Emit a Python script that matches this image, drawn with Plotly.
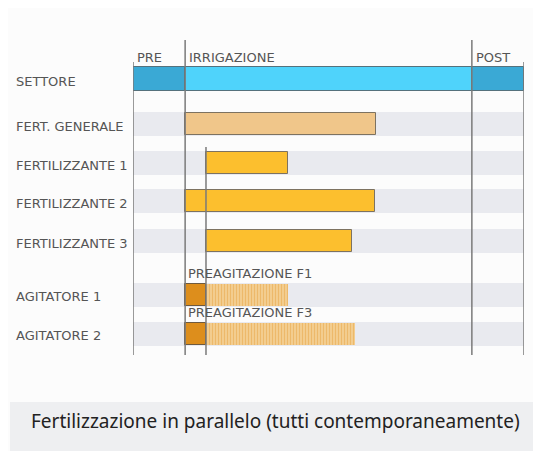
import plotly.graph_objects as go

# ---- data ----
rows = ["SETTORE", "FERT. GENERALE", "FERTILIZZANTE 1", "FERTILIZZANTE 2",
        "FERTILIZZANTE 3", "AGITATORE 1", "AGITATORE 2"]
phases = ["PRE", "IRRIGAZIONE", "POST"]
phase_start = [0, 10, 65]
phase_end = [10, 65, 75]

fert_rows = ["FERT. GENERALE", "FERTILIZZANTE 1", "FERTILIZZANTE 2", "FERTILIZZANTE 3"]
fert_start = [10, 14, 10, 14]
fert_end = [46.7, 29.7, 46.4, 42.0]

agit_rows = ["AGITATORE 1", "AGITATORE 2"]
agit_solid_start = [10, 10]
agit_solid_end = [14, 14]
agit_hatch_start = [14, 14]
agit_hatch_end = [29.7, 42.6]
agit_labels = ["PREAGITAZIONE F1", "PREAGITAZIONE F3"]

caption = "Fertilizzazione in parallelo (tutti contemporaneamente)"

# ---- layout helpers (reference pixel coords; page body adds an 8px offset) ----
OFF = 8
W, H = 541 - OFF, 451 - OFF
PL, PR, PT, PB = 133, 524, 40, 355        # plot area in page pixels
row_pos = [39, 84, 123, 161, 201, 254.5, 293.5]
pos = dict(zip(rows, row_pos))
BW = 24
total = phase_end[-1]

def px(xp):
    return (xp - PL) / (PR - PL)

def py(yp):
    return (PB - yp) / (PB - PT)

LABEL = "#555555"
FONT = "DejaVu Sans"
FS = 13

fig = go.Figure()

# background stripes
stripe_rows = rows[1:]
fig.add_trace(go.Bar(
    orientation="h", y=[pos[r] for r in stripe_rows], x=[total] * len(stripe_rows),
    base=[0] * len(stripe_rows), width=BW, marker=dict(color="#e9eaef", line=dict(width=0)),
    hoverinfo="skip", showlegend=False))

# settore
sett_colors = ["#3aa9d5", "#4fd3fb", "#3aa9d5"]
fig.add_trace(go.Bar(
    orientation="h", y=[pos["SETTORE"]] * 3,
    x=[e - s for s, e in zip(phase_start, phase_end)], base=phase_start, width=BW,
    marker=dict(color=sett_colors, line=dict(color="#55717c", width=1)),
    showlegend=False, hovertext=phases))

# fertilizers
fert_colors = ["#f0c68a", "#fcbf2e", "#fcbf2e", "#fcbf2e"]
fig.add_trace(go.Bar(
    orientation="h", y=[pos[r] for r in fert_rows],
    x=[e - s for s, e in zip(fert_start, fert_end)], base=fert_start, width=BW - 2,
    marker=dict(color=fert_colors, line=dict(color="#7d7260", width=1)),
    showlegend=False, hovertext=fert_rows))

# agitators hatched
fig.add_trace(go.Bar(
    orientation="h", y=[pos[r] for r in agit_rows],
    x=[e - s for s, e in zip(agit_hatch_start, agit_hatch_end)], base=agit_hatch_start,
    width=BW - 2,
    marker=dict(color="#f6d9a6", line=dict(width=0),
                pattern=dict(shape="|", fgcolor="#e39a2e", bgcolor="#f6d9a6",
                             size=3, solidity=0.6)),
    showlegend=False))
# agitators solid
fig.add_trace(go.Bar(
    orientation="h", y=[pos[r] for r in agit_rows],
    x=[e - s for s, e in zip(agit_solid_start, agit_solid_end)], base=agit_solid_start,
    width=BW - 2,
    marker=dict(color="#dd8e1c", line=dict(color="#6f5a3e", width=1)),
    showlegend=False))

shapes = []
# caption band
shapes.append(dict(type="rect", xref="paper", yref="paper", x0=px(10), x1=px(541),
                   y0=py(451), y1=py(402), fillcolor="#eeeff1", line=dict(width=0),
                   layer="below"))

# vertical phase lines
LC = "#7a7a7a"
ytop_outer = 22
ytop_inner = 0
ybot = PB - PT
for xv, yt in [(phase_start[0], ytop_outer), (phase_end[0], ytop_inner),
               (phase_end[1], ytop_inner), (phase_end[2], ytop_outer),
               (fert_start[1], 107)]:
    shapes.append(dict(type="line", xref="x", yref="y", x0=xv, x1=xv, y0=yt, y1=ybot,
                       line=dict(color=LC, width=1.5), layer="above"))

annotations = []
# row labels
for r in rows:
    annotations.append(dict(xref="paper", yref="y", x=px(14), y=pos[r] + 2, text=r,
                            showarrow=False, xanchor="left", yanchor="middle",
                            font=dict(family=FONT, size=FS, color=LABEL)))
# phase labels
for p, s in zip(phases, phase_start):
    annotations.append(dict(xref="x", yref="paper", x=s, y=py(57), text=p,
                            showarrow=False, xanchor="left", yanchor="middle", xshift=2,
                            font=dict(family=FONT, size=FS, color=LABEL)))
# preagitation labels
for r, t, s in zip(agit_rows, agit_labels, agit_solid_start):
    annotations.append(dict(xref="x", yref="y", x=s, y=pos[r] - 21, text=t,
                            showarrow=False, xanchor="left", yanchor="middle", xshift=1,
                            font=dict(family=FONT, size=FS, color=LABEL)))
# caption
annotations.append(dict(xref="paper", yref="paper", x=px(275), y=py(421), text=caption,
                        showarrow=False, xanchor="center", yanchor="middle",
                        font=dict(family="Noto Sans", size=19, color="#222222")))

fig.update_layout(
    width=W, height=H,
    margin=dict(l=PL - OFF, r=W - (PR - OFF), t=PT - OFF, b=H - (PB - OFF)),
    paper_bgcolor="#fcfcfc", plot_bgcolor="#fcfcfc",
    barmode="overlay", bargap=0,
    xaxis=dict(range=[0, total], visible=False, fixedrange=True),
    yaxis=dict(range=[PB - PT, 0], visible=False, fixedrange=True),
    shapes=shapes, annotations=annotations, showlegend=False,
)

fig.write_html("out.html")
